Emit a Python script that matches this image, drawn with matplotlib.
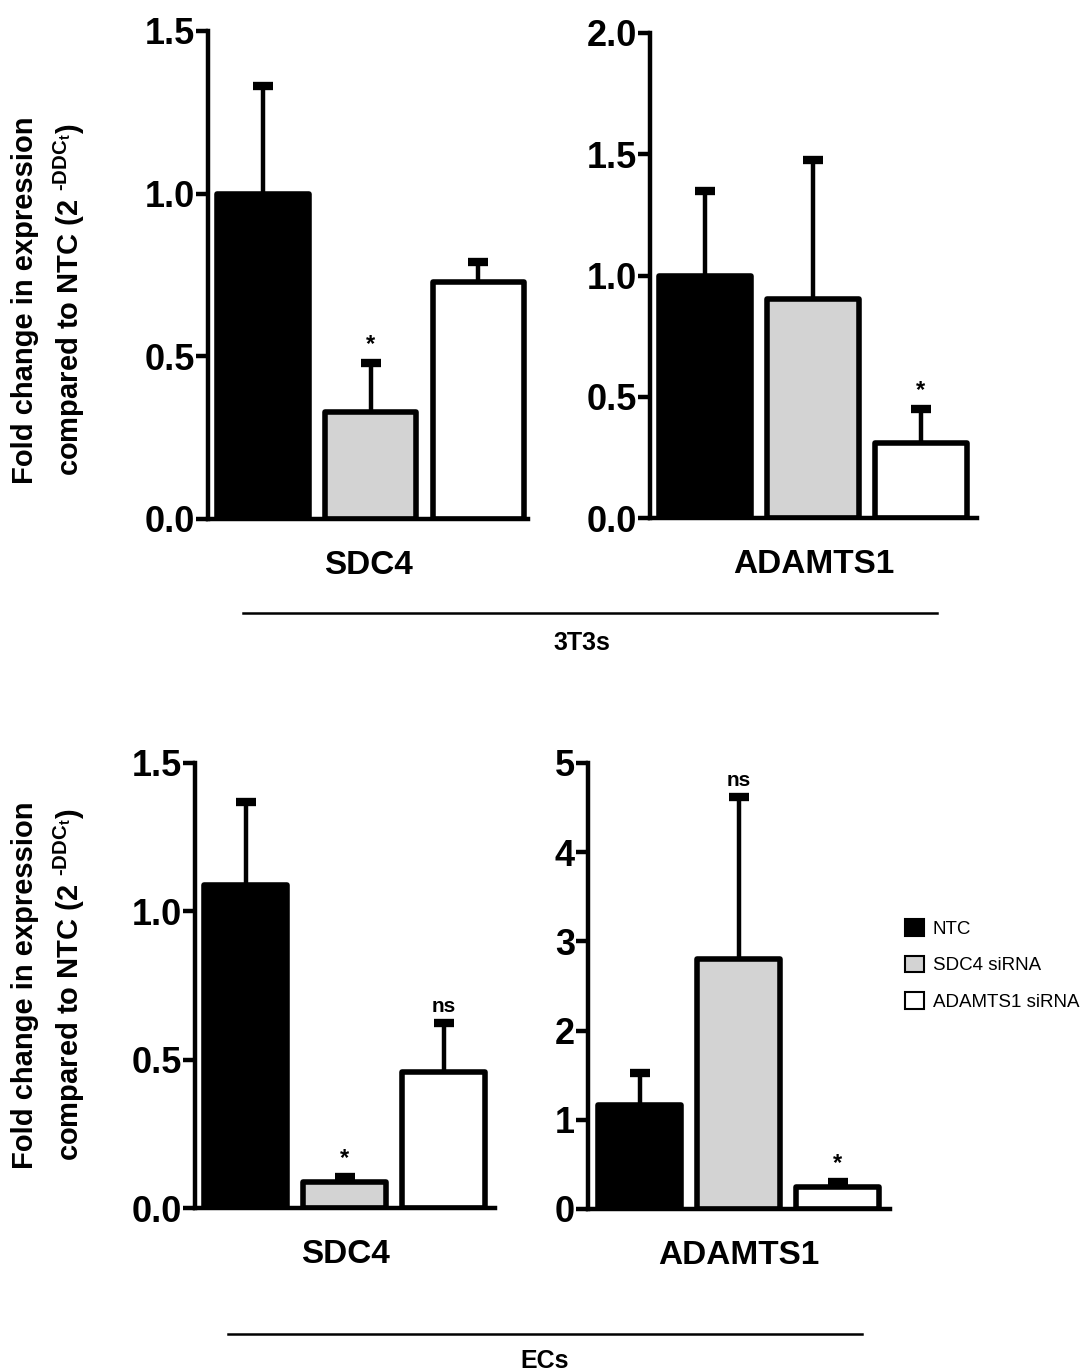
import numpy as np
import matplotlib.pyplot as plt
from matplotlib.patches import Patch

plt.rcParams['font.family'] = ['Liberation Sans', 'DejaVu Sans']
plt.rcParams['font.weight'] = 'bold'
plt.rcParams['mathtext.fontset'] = 'custom'
plt.rcParams['mathtext.rm'] = 'Liberation Sans:bold'
plt.rcParams['mathtext.bf'] = 'Liberation Sans:bold'
plt.rcParams['mathtext.it'] = 'Liberation Sans:bold'

groups = ["NTC", "SDC4 siRNA", "ADAMTS1 siRNA"]
colors = ["black", "#d3d3d3", "white"]

# 3T3s
t3_sdc4 = [1.0, 0.33, 0.73]
t3_sdc4_err = [0.33, 0.15, 0.06]
t3_sdc4_sig = ["", "*", ""]
t3_adamts1 = [1.0, 0.905, 0.31]
t3_adamts1_err = [0.35, 0.57, 0.14]
t3_adamts1_sig = ["", "", "*"]

# ECs
ec_sdc4 = [1.09, 0.088, 0.458]
ec_sdc4_err = [0.28, 0.017, 0.165]
ec_sdc4_sig = ["", "*", "ns"]
ec_adamts1 = [1.17, 2.80, 0.25]
ec_adamts1_err = [0.35, 1.82, 0.05]
ec_adamts1_sig = ["", "ns", "*"]

W, H = 1080, 1372
fig = plt.figure(figsize=(W / 100, H / 100), dpi=100)


def px_axes(left, right, top, bottom):
    return fig.add_axes([left / W, 1 - bottom / H, (right - left) / W, (bottom - top) / H])


def bar_panel(ax, vals, errs, sigs, ymax, step, xlim, title, width=0.85):
    x = np.arange(len(vals))
    eb = ax.errorbar(x, vals, yerr=[np.zeros(len(errs)), errs], fmt='none', ecolor='black',
                     elinewidth=3.2, capsize=7.5, capthick=6, zorder=1)
    eb[1][0].set_visible(False)  # only the upper cap
    ax.bar(x, vals, width=width, color=colors, edgecolor='black', linewidth=4,
           zorder=2, joinstyle='round')
    for xi, v, e, s in zip(x, vals, errs, sigs):
        if s:
            ax.annotate(s, (xi, v + e), xytext=(0, 5), textcoords='offset points',
                        ha='center', va='bottom', fontsize=15 if s == "ns" else 17,
                        fontweight='bold')
    ticks = np.arange(0, ymax + step / 2, step)
    ax.set_ylim(0, ymax)
    ax.set_xlim(*xlim)
    ax.set_yticks(ticks)
    if step < 1:
        ax.set_yticklabels([f"{t:.1f}" for t in ticks])
    ax.set_xticks([])
    ax.spines['top'].set_visible(False)
    ax.spines['right'].set_visible(False)
    ax.spines['left'].set_linewidth(3.2)
    ax.spines['bottom'].set_linewidth(3.2)
    ax.tick_params(axis='y', direction='out', length=8.5, width=3.2, labelsize=26, pad=1)
    ax.set_xlabel(title, fontsize=24, fontweight='bold', labelpad=22)


ax1 = px_axes(208, 528, 31, 519)
bar_panel(ax1, t3_sdc4, t3_sdc4_err, t3_sdc4_sig, 1.5, 0.5, (-0.51, 2.46), "SDC4")
ax2 = px_axes(650, 977, 33, 518)
bar_panel(ax2, t3_adamts1, t3_adamts1_err, t3_adamts1_sig, 2.0, 0.5, (-0.51, 2.52), "ADAMTS1")
ax3 = px_axes(195, 495, 763, 1208)
bar_panel(ax3, ec_sdc4, ec_sdc4_err, ec_sdc4_sig, 1.5, 0.5, (-0.515, 2.52), "SDC4", width=0.84)
ax4 = px_axes(588, 890, 763, 1209)
bar_panel(ax4, ec_adamts1, ec_adamts1_err, ec_adamts1_sig, 5, 1, (-0.525, 2.53), "ADAMTS1", width=0.84)

ylab = "Fold change in expression\ncompared to NTC (2 $^{\\text{-DDC}_{\\text{t}}}$)"
for yc in (300, 985):
    fig.text(49 / W, 1 - yc / H, ylab, rotation=90, ha='center', va='center',
             fontsize=21, fontweight='bold', linespacing=1.5)

# group brackets
fig.add_artist(plt.Line2D([243 / W, 937 / W], [1 - 613 / H, 1 - 613 / H], color='black', lw=1.8))
fig.text(582 / W, 1 - 643 / H, "3T3s", ha='center', va='center', fontsize=18, fontweight='bold')
fig.add_artist(plt.Line2D([228 / W, 862 / W], [1 - 1334 / H, 1 - 1334 / H], color='black', lw=1.8))
fig.text(545 / W, 1 - 1361 / H, "ECs", ha='center', va='center', fontsize=18, fontweight='bold')

handles = [Patch(facecolor=c, edgecolor='black', linewidth=1.5, label=g) for c, g in zip(colors, groups)]
leg = fig.legend(handles=handles, loc='center left', bbox_to_anchor=(888 / W, 1 - 965 / H),
                 frameon=False, handlelength=1.0, handleheight=1.0, handletextpad=0.5,
                 labelspacing=0.95, prop={'size': 13.5, 'weight': 'normal'})

fig.savefig("out.png", dpi=100)
